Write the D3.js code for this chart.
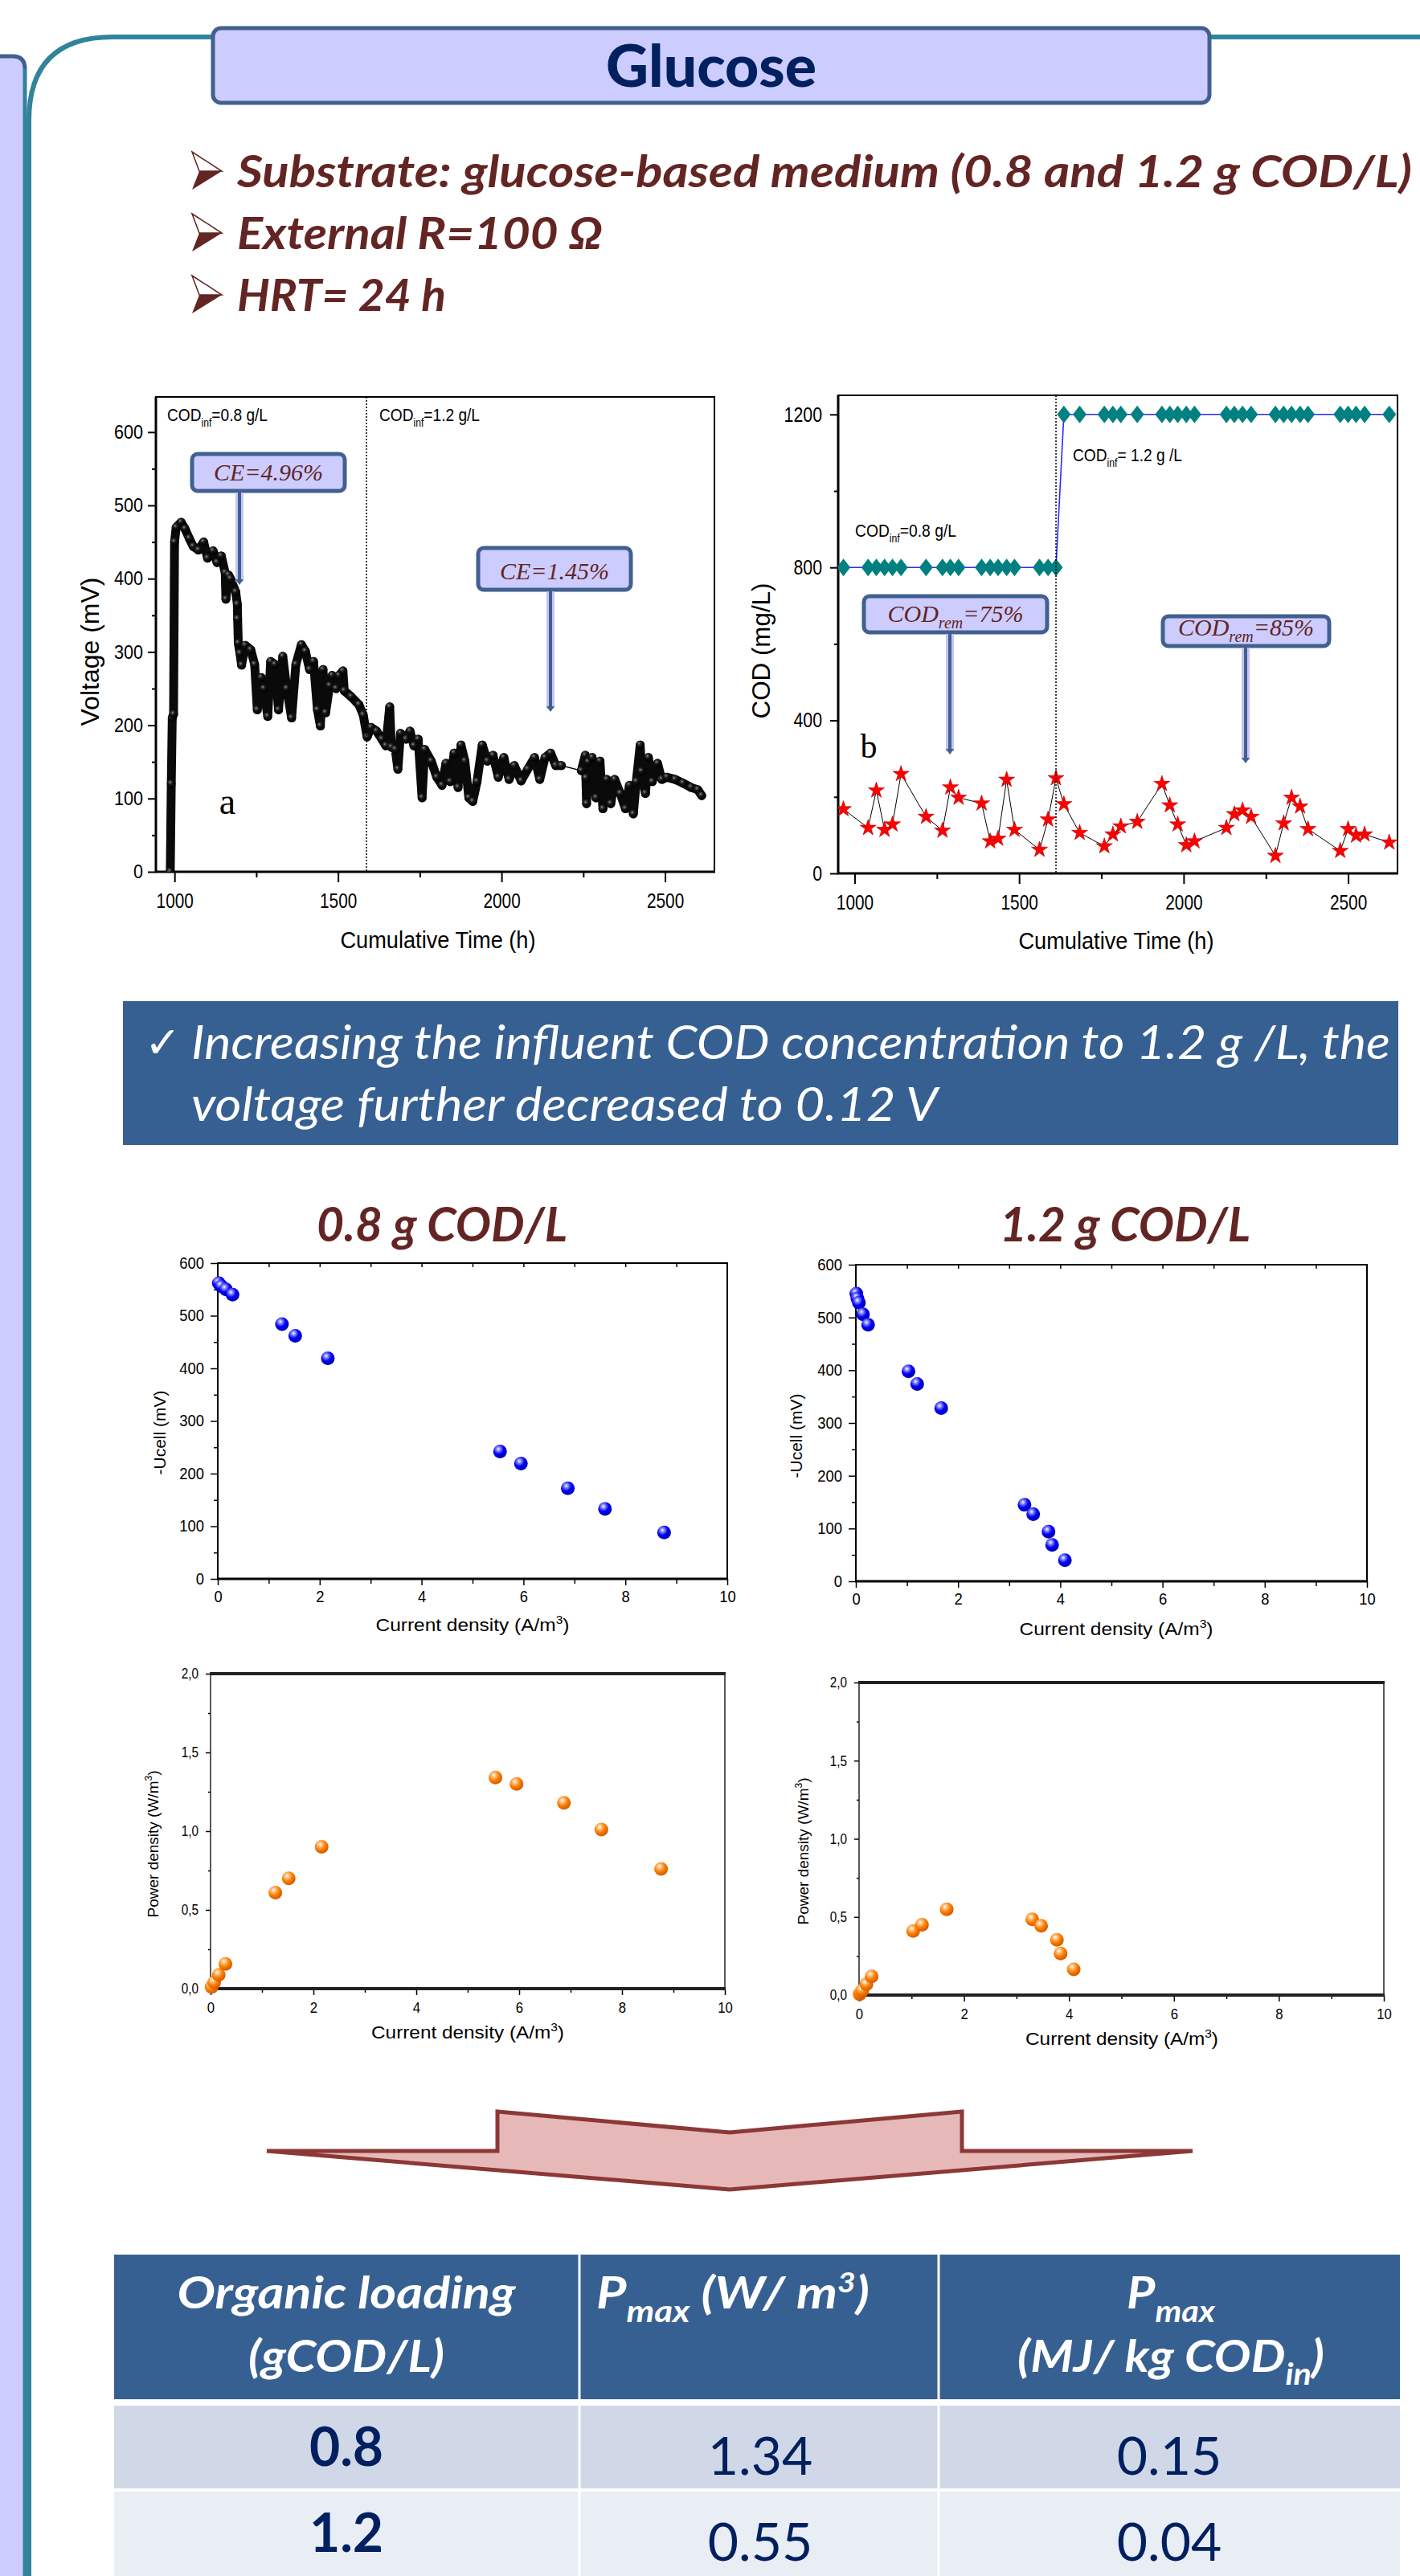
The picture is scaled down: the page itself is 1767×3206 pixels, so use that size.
<!DOCTYPE html>
<meta charset="utf-8">
<script src="https://d3js.org/d3.v7.min.js"></script>
<style>
  body { margin: 0; background: #fff; }
  svg { display: block; }
</style>
<body>
<div id="poster"></div>
<script>

// (a) cell voltage against cumulative time
var voltTime = [987,990,993,997,1000,1005,1020,1032,1045,1057,1073,1089,1101,1118,1130,1143,1155,1157,1165,1171,
  1187,1192,1193,1195,1200,1205,1216,1233,1245,1253,1265,1273,1285,1294,1307,1318,1331,1343,1358,1371,
  1388,1400,1413,1425,1437,1446,1454,1462,1474,1482,1494,1503,1515,1519,1540,1564,1577,1589,1601,1618,
  1634,1646,1658,1663,1675,1683,1691,1708,1720,1732,1745,1757,1765,1785,1802,1818,1830,1843,1855,1867,
  1876,1888,1900,1912,1925,1941,1957,1974,1990,2007,2023,2039,2060,2080,2101,2117,2133,2150,2166,2183,
  2244,2256,2258,2260,2265,2277,2289,2301,2310,2322,2334,2346,2363,2379,2391,2403,2412,2424,2428,2440,
  2449,2461,2477,2490,2506,2531,2555,2580,2600,2612];
var voltValue = [0,120,210,215,450,470,477,468,455,444,439,450,428,438,422,431,408,372,405,400,
  382,365,345,312,298,282,309,303,283,221,265,250,212,287,283,221,294,250,210,283,
  310,301,276,287,221,199,276,217,254,268,250,268,274,247,239,228,214,184,197,192,
  181,172,225,170,167,140,189,181,192,172,181,101,167,151,129,118,148,123,162,115,
  173,151,101,96,123,173,151,159,129,156,126,145,124,140,156,126,156,162,145,145,
  138,159,128,93,150,156,101,151,86,126,93,126,107,86,118,79,123,173,137,107,
  156,123,148,126,129,126,121,115,112,104];

// (b) influent and effluent COD (mg/L) on the sampling days
var sampleTime = [966,1041,1066,1091,1115,1141,1217,1267,1291,1316,1386,1412,1436,1462,1486,1562,1588,1612,
  1636,1684,1759,1785,1809,1859,1934,1958,1982,2008,2033,2130,2154,2179,2205,2279,2304,2328,2354,2378,
  2476,2500,2524,2550,2625];
var codInf = [800,800,800,800,800,800,800,800,800,800,800,800,800,800,800,800,800,800,
  1200,1200,1200,1200,1200,1200,1200,1200,1200,1200,1200,1200,1200,1200,1200,1200,1200,1200,1200,1200,
  1200,1200,1200,1200,1200];
var codEff = [168,119,217,114,128,260,148,112,225,198,183,84,91,245,114,62,141,249,
  181,106,71,102,123,135,234,178,128,74,84,119,155,165,148,46,131,198,175,116,
  59,116,99,102,81];

// polarisation and power curves
var current08 = [0.02,0.07,0.16,0.29,1.26,1.52,2.16,5.54,5.95,6.87,7.60,8.76];
var voltage08 = [562,556,550,540,484,462,419,242,219,172,133,88];
var power08 = [0.01,0.04,0.088,0.157,0.61,0.70,0.90,1.34,1.30,1.18,1.01,0.76];

var current12 = [0.01,0.03,0.06,0.14,0.24,1.03,1.20,1.67,3.30,3.47,3.77,3.84,4.09];
var voltage12 = [545,536,528,506,486,398,374,328,145,127,94,69,40];
var power12 = [0.005,0.016,0.03,0.069,0.12,0.41,0.45,0.549,0.484,0.443,0.354,0.266,0.165];

// summary table
var tableLoading = ["0.8", "1.2"];
var tablePmax = ["1.34", "0.55"];
var tableEnergy = ["0.15", "0.04"];


var W = 1767, H = 3206;
var SANS = "'Liberation Sans', Arial, sans-serif";
var CAL = "Lato, 'Open Sans', sans-serif";
var SERIF = "'Liberation Serif', 'Times New Roman', serif";
var RED = "#632523", NAVY = "#002060", BLUE = "#376092", EDGE = "#41608f";

var svg = d3.select("#poster").append("svg").attr("width", W).attr("height", H);
var defs = svg.append("defs");

// squeeze a text to a fraction of its natural width (narrow Arial look)
function narrow(sel, k) {
  sel.each(function () {
    var w = this.getComputedTextLength();
    d3.select(this).attr("textLength", w * k).attr("lengthAdjust", "spacingAndGlyphs");
  });
}
function fit(sel, w) {
  sel.attr("textLength", w).attr("lengthAdjust", "spacingAndGlyphs");
}

function sphere(id, stops) {
  var gr = defs.append("radialGradient").attr("id", id)
    .attr("cx", "38%").attr("cy", "32%").attr("r", "68%");
  stops.forEach(function (s) {
    gr.append("stop").attr("offset", s[0]).attr("stop-color", s[1]);
  });
}
sphere("ball-black", [["0%", "#9a9a9a"], ["18%", "#444"], ["45%", "#111"], ["100%", "#000"]]);
sphere("ball-blue", [["0%", "#fff"], ["20%", "#9090ff"], ["55%", "#0000ff"], ["100%", "#0000a8"]]);
sphere("ball-orange", [["0%", "#fff"], ["20%", "#ffc890"], ["55%", "#ff8000"], ["100%", "#d05a00"]]);

// ---------- frame of the poster ----------
svg.append("path").attr("d", "M0,70 H16 Q31,70 31,86 V" + H + " H0 Z").attr("fill", "#ccccff");
svg.append("path").attr("d", "M0,70 H16 Q31,70 31,86").attr("fill", "none")
  .attr("stroke", EDGE).attr("stroke-width", 5);
svg.append("line").attr("x1", 31).attr("x2", 31).attr("y1", 86).attr("y2", H)
  .attr("stroke", "#31849b").attr("stroke-width", 5);
svg.append("path").attr("d", "M36," + H + " V150 Q36,46 140,46 H" + W)
  .attr("fill", "none").attr("stroke", "#31849b").attr("stroke-width", 6);

svg.append("rect").attr("x", 265).attr("y", 35).attr("width", 1240).attr("height", 93).attr("rx", 10)
  .attr("fill", "#ccccff").attr("stroke", EDGE).attr("stroke-width", 5);
svg.append("text").attr("x", 885).attr("y", 108).attr("text-anchor", "middle")
  .attr("font-family", CAL).attr("font-weight", 900).attr("font-size", 72).attr("fill", NAVY)
  .text("Glucose").call(fit, 262);

// bullets
function bullet(y, s, w) {
  svg.append("path")
    .attr("d", "M239," + (y - 44) + " L276," + (y - 20) + " L239," + (y + 3) + " L248," + (y - 20) + " Z")
    .attr("fill", RED);
  svg.append("path")
    .attr("d", "M239," + (y - 44) + " L276," + (y - 20) + " L248," + (y - 20) + " Z")
    .attr("fill", "#fff").attr("stroke", RED).attr("stroke-width", 1.5);
  svg.append("text").attr("x", 295).attr("y", y).attr("font-family", CAL)
    .attr("font-weight", "bold").attr("font-style", "italic").attr("font-size", 56)
    .attr("fill", RED).text(s).call(fit, w);
}
bullet(233, "Substrate: glucose-based medium (0.8 and 1.2 g COD/L)", 1462);
bullet(310, "External R=100 \u03A9", 455);
bullet(387, "HRT= 24 h", 260);

// ---------- generic framed chart ----------
function makeChart(c) {
  var g = svg.append("g");
  var x = d3.scaleLinear().domain(c.xd).range([c.l, c.r]);
  var y = d3.scaleLinear().domain(c.yd).range([c.b, c.t]);
  var blank = function () { return ""; };
  function axis(gen, tr, vals, size, pad, fmt) {
    var a = g.append("g").attr("transform", tr)
      .call(gen.tickValues(vals).tickSize(size).tickSizeOuter(0).tickPadding(pad).tickFormat(fmt));
    a.select(".domain").remove();
    a.selectAll(".tick line").attr("stroke", "#000").attr("stroke-width", c.tw);
    return a;
  }
  var ya = axis(d3.axisLeft(y), "translate(" + c.l + ",0)", c.yMajor, c.yTick[0], c.yPad, c.yFmt || d3.format("d"));
  axis(d3.axisLeft(y), "translate(" + c.l + ",0)", c.yMinor, c.yTick[1], 0, blank);
  var xa = axis(d3.axisBottom(x), "translate(0," + c.b + ")", c.xMajor, c.xTick[0], c.xPad, d3.format("d"));
  axis(d3.axisBottom(x), "translate(0," + c.b + ")", c.xMinor, c.xTick[1], 0, blank);
  if (c.topTicks) axis(d3.axisTop(x), "translate(0," + c.t + ")", c.topTicks, -5, 0, blank);

  ya.selectAll("text").attr("font-family", SANS).attr("font-size", c.yFs).attr("fill", "#000").call(narrow, c.yK);
  xa.selectAll("text").attr("font-family", SANS).attr("font-size", c.xFs).attr("fill", "#000").call(narrow, c.xK);

  var fw = c.fw, col = c.frameColor || "#000";
  g.append("line").attr("x1", c.l).attr("x2", c.l).attr("y1", c.t).attr("y2", c.b).attr("stroke", col).attr("stroke-width", fw[0]);
  g.append("line").attr("x1", c.l - 1).attr("x2", c.r + 1).attr("y1", c.b).attr("y2", c.b).attr("stroke", col).attr("stroke-width", fw[1]);
  g.append("line").attr("x1", c.l - 1).attr("x2", c.r + 1).attr("y1", c.t).attr("y2", c.t).attr("stroke", col).attr("stroke-width", fw[2]);
  g.append("line").attr("x1", c.r).attr("x2", c.r).attr("y1", c.t).attr("y2", c.b).attr("stroke", col).attr("stroke-width", fw[3]);

  var id = "clip" + Math.round(c.l) + "_" + Math.round(c.t);
  defs.append("clipPath").attr("id", id).append("rect")
    .attr("x", c.l).attr("y", c.t).attr("width", c.r - c.l).attr("height", c.b - c.t);
  var plot = g.append("g").attr("clip-path", "url(#" + id + ")");
  return { g: g, plot: plot, x: x, y: y };
}

// parts: [text, dy, fontSize]
function richText(t, parts, base) {
  parts.forEach(function (p) {
    var s = t.append("tspan").text(p[0]).attr("font-size", p[2] || base);
    if (p[1]) s.attr("dy", p[1]);
  });
}

function title(g, x, y, parts, size, rotate, width) {
  var t = g.append("text").attr("text-anchor", "middle").attr("font-family", SANS)
    .attr("font-size", size).attr("fill", "#000")
    .attr("transform", "translate(" + x + "," + y + ")" + (rotate ? " rotate(-90)" : ""));
  richText(t, parts, size);
  if (width) fit(t, width);
  return t;
}

function codLabel(g, x, y, main, sub, rest, width) {
  var t = g.append("text").attr("x", x).attr("y", y).attr("font-family", SANS).attr("fill", "#000");
  richText(t, [[main, 0, 22], [sub, 7, 14], [rest, -7, 22]], 22);
  fit(t, width);
}

function callout(g, x0, y0, x1, y1, ax, tip, parts) {
  g.append("rect").attr("x", x0).attr("y", y0).attr("width", x1 - x0).attr("height", y1 - y0).attr("rx", 7)
    .attr("fill", "#ccccff").attr("stroke", EDGE).attr("stroke-width", 5);
  g.append("line").attr("x1", ax).attr("x2", ax).attr("y1", y1 + 2).attr("y2", tip - 4)
    .attr("stroke", "#c4c4f4").attr("stroke-width", 10);
  g.append("line").attr("x1", ax).attr("x2", ax).attr("y1", y1 + 2).attr("y2", tip - 5)
    .attr("stroke", EDGE).attr("stroke-width", 4);
  g.append("path").attr("d", "M" + (ax - 5) + "," + (tip - 7) + " L" + (ax + 5) + "," + (tip - 7) + " L" + ax + "," + tip + " Z")
    .attr("fill", EDGE);
  var t = g.append("text").attr("x", (x0 + x1) / 2).attr("y", y1 - 13).attr("text-anchor", "middle")
    .attr("font-family", SERIF).attr("font-style", "italic").attr("fill", RED);
  richText(t, parts, 30);
}

// ---------- (a) voltage ----------
var A = makeChart({
  xd: [943, 2651], yd: [0, 648], l: 194, r: 889, t: 494, b: 1085,
  yMajor: [0, 100, 200, 300, 400, 500, 600], yMinor: [50, 150, 250, 350, 450, 550], yTick: [10, 5], yPad: 6,
  xMajor: [1000, 1500, 2000, 2500], xMinor: [1250, 1750, 2250], xTick: [13, 7], xPad: 14,
  yFs: 24, yK: 0.9, xFs: 26, xK: 0.8, tw: 2, fw: [3, 3, 2, 2]
});
A.g.append("line").attr("x1", A.x(1587)).attr("x2", A.x(1587)).attr("y1", 494).attr("y2", 1085)
  .attr("stroke", "#000").attr("stroke-width", 1.5).attr("stroke-dasharray", "2,2");

var volt = voltTime.map(function (t, i) { return [t, voltValue[i]]; });
var runs = [[]];
volt.forEach(function (d, i) {
  if (i && d[0] - volt[i - 1][0] > 40) runs.push([]);
  runs[runs.length - 1].push(d);
});
var vLine = d3.line().x(function (d) { return A.x(d[0]); }).y(function (d) { return A.y(d[1]); });
A.plot.append("path").attr("d", vLine(volt)).attr("fill", "none").attr("stroke", "#000").attr("stroke-width", 1.3);
runs.forEach(function (r) {
  A.plot.append("path").attr("d", vLine(r)).attr("fill", "none").attr("stroke", "#0a0a0a")
    .attr("stroke-width", 11).attr("stroke-linejoin", "round").attr("stroke-linecap", "round");
});
A.plot.selectAll("circle").data(volt).join("circle")
  .attr("cx", function (d) { return A.x(d[0]); }).attr("cy", function (d) { return A.y(d[1]); })
  .attr("r", 5.5).attr("fill", "url(#ball-black)");

codLabel(A.g, 208, 524, "COD", "inf", "=0.8 g/L", 125);
codLabel(A.g, 472, 524, "COD", "inf", "=1.2 g/L", 125);
callout(A.g, 239, 565, 429, 611, 298, 728, [["CE=4.96%"]]);
callout(A.g, 595, 682, 785, 734, 685, 886, [["CE=1.45%"]]);
A.g.append("text").attr("x", 283).attr("y", 1013).attr("text-anchor", "middle")
  .attr("font-family", SERIF).attr("font-size", 46).text("a");
title(A.g, 545, 1180, [["Cumulative Time (h)"]], 29, false, 243);
title(A.g, 123, 811, [["Voltage (mV)"]], 31, true, 185);

// ---------- (b) COD ----------
var B = makeChart({
  xd: [950, 2650], yd: [0, 1250], l: 1043, r: 1739, t: 492, b: 1087,
  yMajor: [0, 400, 800, 1200], yMinor: [200, 600, 1000], yTick: [10, 5], yPad: 10,
  xMajor: [1000, 1500, 2000, 2500], xMinor: [1250, 1750, 2250], xTick: [13, 7], xPad: 14,
  yFs: 26, yK: 0.82, xFs: 26, xK: 0.8, tw: 2, fw: [3, 3, 2, 2]
});
B.g.append("line").attr("x1", B.x(1612)).attr("x2", B.x(1612)).attr("y1", 492).attr("y2", 1087)
  .attr("stroke", "#000").attr("stroke-width", 1.5).attr("stroke-dasharray", "2,2");

var cod = sampleTime.map(function (t, i) { return { t: t, inf: codInf[i], eff: codEff[i] }; });
B.plot.append("path").attr("fill", "none").attr("stroke", "#2a2aff").attr("stroke-width", 1.6)
  .attr("d", d3.line().x(function (d) { return B.x(d.t); }).y(function (d) { return B.y(d.inf); })(cod));
B.plot.append("path").attr("fill", "none").attr("stroke", "#000").attr("stroke-width", 1)
  .attr("d", d3.line().x(function (d) { return B.x(d.t); }).y(function (d) { return B.y(d.eff); })(cod));
B.plot.selectAll("path.dia").data(cod).join("path").attr("class", "dia")
  .attr("d", "M0,-11 L8.5,0 L0,11 L-8.5,0 Z").attr("fill", "#008080")
  .attr("transform", function (d) { return "translate(" + B.x(d.t) + "," + B.y(d.inf) + ")"; });
B.plot.selectAll("path.star").data(cod).join("path").attr("class", "star")
  .attr("d", d3.symbol(d3.symbolStar, 125)).attr("fill", "#ff0000").attr("stroke", "#b00000").attr("stroke-width", 0.6)
  .attr("transform", function (d) { return "translate(" + B.x(d.t) + "," + B.y(d.eff) + ")"; });

codLabel(B.g, 1335, 574, "COD", "inf", "= 1.2 g /L", 136);
codLabel(B.g, 1064, 668, "COD", "inf", "=0.8 g/L", 126);
callout(B.g, 1075, 742, 1303, 787, 1182, 939, [["COD", 0, 30], ["rem", 8, 20], ["=75%", -8, 30]]);
callout(B.g, 1447, 767, 1654, 804, 1550, 950, [["COD", 0, 30], ["rem", 8, 20], ["=85%", -8, 30]]);
B.g.append("text").attr("x", 1081).attr("y", 943).attr("text-anchor", "middle")
  .attr("font-family", SERIF).attr("font-size", 42).text("b");
title(B.g, 1389, 1181, [["Cumulative Time (h)"]], 29, false, 243);
title(B.g, 958, 810, [["COD (mg/L)"]], 31, true, 169);

// ---------- middle banner ----------
svg.append("rect").attr("x", 153).attr("y", 1246).attr("width", 1587).attr("height", 179).attr("fill", BLUE);
svg.append("text").attr("x", 180).attr("y", 1316).attr("font-family", "'DejaVu Sans'")
  .attr("font-size", 54).attr("fill", "#fff").text("\u2713");
svg.append("text").attr("x", 238).attr("y", 1318).attr("font-family", CAL).attr("font-style", "italic")
  .attr("font-size", 58).attr("fill", "#fff")
  .text("Increasing the influent COD concentration to 1.2 g /L, the").call(fit, 1492);
svg.append("text").attr("x", 238).attr("y", 1395).attr("font-family", CAL).attr("font-style", "italic")
  .attr("font-size", 58).attr("fill", "#fff")
  .text("voltage further decreased to 0.12 V").call(fit, 929);

[["0.8 g COD/L", 550], ["1.2 g COD/L", 1400]].forEach(function (d) {
  svg.append("text").attr("x", d[1]).attr("y", 1545).attr("text-anchor", "middle")
    .attr("font-family", CAL).attr("font-weight", "bold").attr("font-style", "italic")
    .attr("font-size", 60).attr("fill", RED).text(d[0]).call(fit, 312);
});

// ---------- polarisation curves ----------
var pvCfg = {
  xd: [0, 10], yd: [0, 600],
  yMajor: [0, 100, 200, 300, 400, 500, 600], yMinor: [50, 150, 250, 350, 450, 550], yTick: [9, 5], yPad: 8,
  xMajor: [0, 2, 4, 6, 8, 10], xMinor: [1, 3, 5, 7, 9], xTick: [8, 6], xPad: 7,
  topTicks: [1, 2, 3, 4, 5, 6, 7, 8, 9],
  yFs: 20, yK: 0.92, xFs: 20, xK: 0.92, tw: 1.5, fw: [2, 3, 2, 2]
};
var pwCfg = {
  xd: [0, 10], yd: [0, 2],
  yMajor: [0, 0.5, 1, 1.5, 2], yMinor: [0.25, 0.75, 1.25, 1.75], yTick: [6, 3], yPad: 9,
  yFmt: function (d) { return d3.format(".1f")(d).replace(".", ","); },
  xMajor: [0, 2, 4, 6, 8, 10], xMinor: [1, 3, 5, 7, 9], xTick: [8, 5], xPad: 9,
  yFs: 18, yK: 0.85, xFs: 19, xK: 0.88, tw: 1.5, fw: [1.5, 4, 4, 1.5], frameColor: "#222"
};
function withBox(cfg, l, r, t, b) {
  return Object.assign({}, cfg, { l: l, r: r, t: t, b: b });
}
function balls(ch, xs, ys, fill, r) {
  ch.g.append("g").selectAll("circle").data(xs).join("circle")
    .attr("cx", function (d) { return ch.x(d); })
    .attr("cy", function (d, i) { return ch.y(ys[i]); })
    .attr("r", r).attr("fill", fill);
}
var curLabel = [["Current density (A/m", 0, 22], ["3", -9, 14], [")", 9, 22]];
var powLabel = [["Power density (W/m", 0, 19], ["3", -8, 12], [")", 8, 19]];

var C = makeChart(withBox(pvCfg, 271, 905, 1572, 1965));
balls(C, current08, voltage08, "url(#ball-blue)", 8.5);
title(C.g, 206, 1783, [["-Ucell (mV)"]], 21, true);
title(C.g, 588, 2030, curLabel, 22, false, 241);

var D = makeChart(withBox(pvCfg, 1065, 1701, 1574, 1968));
balls(D, current12, voltage12, "url(#ball-blue)", 8.5);
title(D.g, 998, 1787, [["-Ucell (mV)"]], 21, true);
title(D.g, 1389, 2035, curLabel, 22, false, 241);

var E = makeChart(withBox(pwCfg, 262, 902, 2083, 2475));
balls(E, current08, power08, "url(#ball-orange)", 8.5);
title(E.g, 197, 2295, powLabel, 19, true);
title(E.g, 582, 2537, curLabel, 22, false, 240);

var F = makeChart(withBox(pwCfg, 1069, 1722, 2094, 2483));
balls(F, current12, power12, "url(#ball-orange)", 8.5);
title(F.g, 1006, 2304, powLabel, 19, true);
title(F.g, 1396, 2545, curLabel, 22, false, 240);

// ---------- big arrow ----------
svg.append("path")
  .attr("d", "M332,2677 L619,2677 L619,2628 L908,2654 L1197,2628 L1197,2677 L1484,2677 L908,2725 Z")
  .attr("fill", "#e6b9b8").attr("stroke", "#8c3836").attr("stroke-width", 5).attr("stroke-linejoin", "miter");

// ---------- table ----------
var T = svg.append("g");
T.append("rect").attr("x", 142).attr("y", 2806).attr("width", 1600).attr("height", 180).attr("fill", BLUE);
T.append("rect").attr("x", 142).attr("y", 2994).attr("width", 1600).attr("height", 103).attr("fill", "#d0d8e8");
T.append("rect").attr("x", 142).attr("y", 3101).attr("width", 1600).attr("height", 105).attr("fill", "#e9edf4");
[721, 1168].forEach(function (x) {
  T.append("line").attr("x1", x).attr("x2", x).attr("y1", 2806).attr("y2", H)
    .attr("stroke", "#fff").attr("stroke-width", 3);
});

function head(x, y, parts, w) {
  var t = T.append("text").attr("x", x).attr("y", y).attr("text-anchor", "middle")
    .attr("font-family", CAL).attr("font-weight", "bold").attr("font-style", "italic").attr("fill", "#fff");
  richText(t, parts, 56);
  if (w) fit(t, w);
}
head(431, 2873, [["Organic loading"]], 421);
head(431, 2952, [["(gCOD/L)"]], 244);
head(912, 2873, [["P"], ["max", 17, 38], [" (W/ m", -17], ["3", -20, 34], [")", 20]], 340);
head(1457, 2873, [["P"], ["max", 17, 38]], 110);
head(1457, 2952, [["(MJ/ kg COD"], ["in", 16, 38], [")", -16]], 382);

tableLoading.forEach(function (v, i) {
  var y0 = i === 0 ? 0 : 107;
  T.append("text").attr("x", 431).attr("y", 3069 + y0).attr("text-anchor", "middle")
    .attr("font-family", CAL).attr("font-weight", "bold").attr("font-size", 66).attr("fill", NAVY).text(v);
  T.append("text").attr("x", 946).attr("y", 3080 + y0).attr("text-anchor", "middle")
    .attr("font-family", CAL).attr("font-size", 66).attr("fill", NAVY).text(tablePmax[i]);
  T.append("text").attr("x", 1455).attr("y", 3080 + y0).attr("text-anchor", "middle")
    .attr("font-family", CAL).attr("font-size", 66).attr("fill", NAVY).text(tableEnergy[i]);
});

</script>
</body>
